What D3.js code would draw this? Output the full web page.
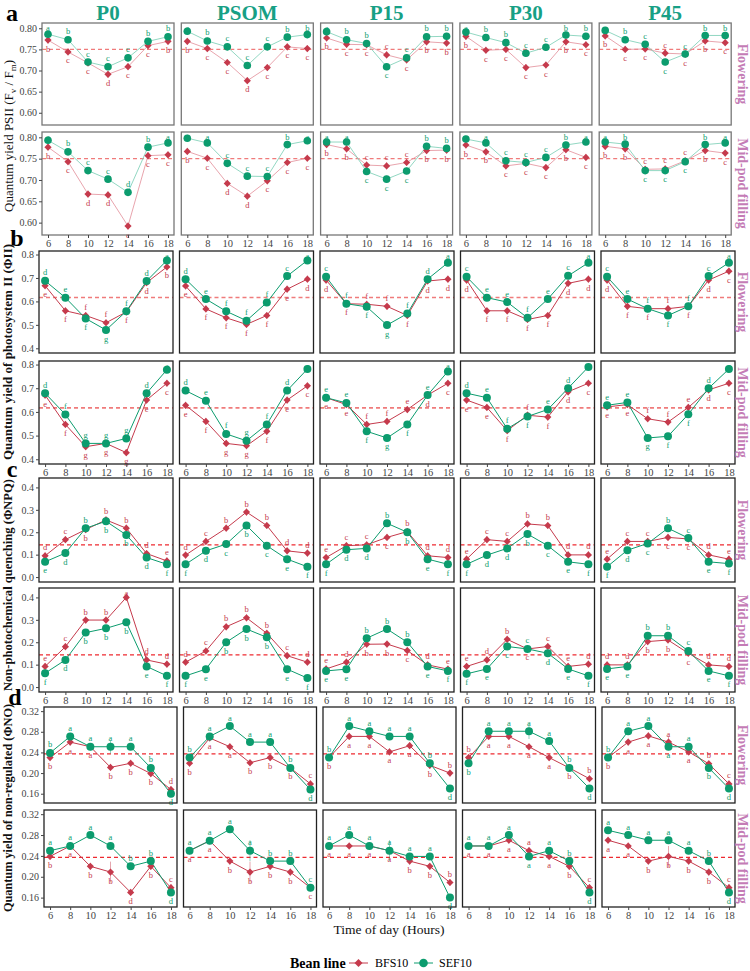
<!DOCTYPE html>
<html>
<head>
<meta charset="utf-8">
<script src="https://cdn.jsdelivr.net/npm/d3@7"></script>
<style>
  body { margin: 0; background: #fff; }
  svg { display: block; }
  text { font-family: "Liberation Serif", "DejaVu Serif", serif; }
</style>
</head>
<body>
<svg id="chart" width="750" height="971"></svg>
<script>
// ---- data ----
const hours = [6, 8, 10, 12, 14, 16, 18];
const treatments = ["P0", "PSOM", "P15", "P30", "P45"];
const stages = ["Flowering", "Mid-pod filling"];
const beanLines = ["BFS10", "SEF10"];

// a: Fv/Fm   [stage][treatment][hour]
const fvfmBFS = [
  [[0.772,0.744,0.718,0.691,0.709,0.759,0.769],[0.769,0.752,0.719,0.676,0.707,0.756,0.752],[0.777,0.762,0.761,0.737,0.725,0.768,0.765],[0.781,0.748,0.750,0.707,0.713,0.768,0.761],[0.782,0.750,0.751,0.741,0.739,0.770,0.766]],
  [[0.777,0.743,0.667,0.665,0.592,0.757,0.759],[0.767,0.751,0.692,0.662,0.698,0.741,0.751],[0.783,0.773,0.735,0.733,0.741,0.769,0.770],[0.782,0.766,0.733,0.739,0.729,0.771,0.753],[0.779,0.773,0.725,0.726,0.745,0.769,0.763]]
];
const fvfmSEF = [
  [[0.786,0.773,0.720,0.709,0.730,0.769,0.780],[0.793,0.770,0.756,0.712,0.756,0.779,0.785],[0.792,0.773,0.764,0.709,0.730,0.780,0.781],[0.791,0.778,0.766,0.741,0.755,0.784,0.781],[0.795,0.773,0.762,0.720,0.739,0.783,0.783]],
  [[0.793,0.766,0.722,0.702,0.671,0.777,0.787],[0.798,0.787,0.739,0.709,0.708,0.783,0.792],[0.789,0.789,0.720,0.702,0.721,0.779,0.774],[0.796,0.787,0.745,0.741,0.753,0.782,0.789],[0.789,0.784,0.722,0.722,0.743,0.783,0.787]]
];
const fvfmLetBFS = [["bccdccb","bccdccc","bccccbb","bccccbc","bccccbc"],["bcddecc","bcddccc","bbcccbb","bbcccbc","bbcccbc"]];
const fvfmLetSEF = [["abcccbb","abcccbb","abbccbb","abbccbb","abcccbb"],["abccdba","aacccba","aacccbb","aacccba","abcccba"]];

// b: PhiII
const phi2BFS = [
  [[0.667,0.560,0.540,0.509,0.555,0.680,0.747],[0.666,0.568,0.530,0.502,0.540,0.652,0.695],[0.691,0.590,0.588,0.579,0.540,0.687,0.695],[0.691,0.560,0.560,0.523,0.540,0.677,0.695],[0.691,0.579,0.569,0.569,0.579,0.691,0.729]],
  [[0.671,0.547,0.453,0.467,0.428,0.650,0.721],[0.628,0.560,0.467,0.457,0.518,0.650,0.710],[0.660,0.631,0.547,0.560,0.610,0.671,0.721],[0.650,0.619,0.521,0.586,0.578,0.685,0.721],[0.621,0.631,0.571,0.557,0.619,0.693,0.721]]
];
const phi2SEF = [
  [[0.688,0.616,0.527,0.478,0.558,0.687,0.775],[0.695,0.610,0.558,0.518,0.595,0.708,0.775],[0.705,0.590,0.577,0.499,0.548,0.695,0.765],[0.705,0.616,0.597,0.530,0.610,0.709,0.765],[0.705,0.610,0.569,0.540,0.579,0.708,0.765]],
  [[0.679,0.589,0.467,0.467,0.488,0.679,0.778],[0.690,0.647,0.507,0.478,0.547,0.690,0.781],[0.660,0.638,0.518,0.490,0.547,0.671,0.771],[0.679,0.660,0.529,0.581,0.610,0.700,0.790],[0.628,0.640,0.490,0.497,0.590,0.700,0.781]]
];
const phi2LetBFS = [["effffdb","effffed","dffffdd","dffffdd","dffffdc"],["efgggec","efggfec","eeffedc","eefffdc","eeffedc"]];
const phi2LetSEF = [["defgfda","defffca","cffgfda","ceefeca","cefffca"],["dfgggda","defgfda","eefgfea","deffeda","eegffda"]];

// c: PhiNPQ
const npqBFS = [
  [[0.095,0.167,0.212,0.255,0.218,0.105,0.072],[0.098,0.159,0.218,0.290,0.230,0.117,0.107],[0.087,0.140,0.144,0.177,0.203,0.095,0.087],[0.080,0.167,0.159,0.237,0.230,0.099,0.099],[0.080,0.159,0.159,0.177,0.170,0.099,0.080]],
  [[0.092,0.180,0.299,0.299,0.400,0.121,0.102],[0.111,0.161,0.269,0.309,0.240,0.140,0.111],[0.081,0.111,0.191,0.192,0.163,0.099,0.080],[0.092,0.121,0.213,0.170,0.181,0.092,0.102],[0.099,0.099,0.203,0.210,0.151,0.099,0.092]]
];
const npqSEF = [
  [[0.068,0.107,0.218,0.249,0.188,0.087,0.057],[0.057,0.117,0.147,0.230,0.140,0.080,0.046],[0.057,0.122,0.128,0.240,0.200,0.080,0.057],[0.057,0.098,0.128,0.192,0.140,0.068,0.057],[0.046,0.120,0.150,0.218,0.174,0.068,0.060]],
  [[0.062,0.121,0.243,0.262,0.289,0.092,0.050],[0.050,0.080,0.200,0.259,0.222,0.080,0.040],[0.072,0.080,0.218,0.259,0.200,0.092,0.072],[0.059,0.081,0.181,0.170,0.151,0.081,0.050],[0.081,0.092,0.229,0.229,0.161,0.072,0.050]]
];
const npqLetBFS = [["dcbbbde","dcbbbdd","ecccbdd","eccbbdd","eccccde"],["ecbbadd","dcbbbcd","edbbcde","edbcced","ddbbcdd"]];
const npqLetSEF = [["edbbbdf","fdcbcef","fddbbef","fddbcef","fdcbcef"],["fdbbbef","febbbef","eebbbef","feccdef","eebbcef"]];

// d: PhiNO
const noBFS = [
  [[0.230,0.260,0.251,0.211,0.219,0.199,0.168],[0.219,0.268,0.251,0.220,0.230,0.210,0.179],[0.230,0.271,0.271,0.241,0.253,0.215,0.200],[0.230,0.271,0.271,0.251,0.230,0.210,0.189],[0.230,0.260,0.272,0.260,0.241,0.218,0.179]],
  [[0.239,0.259,0.220,0.209,0.170,0.220,0.179],[0.250,0.269,0.230,0.209,0.220,0.209,0.179],[0.259,0.259,0.259,0.250,0.230,0.220,0.189],[0.259,0.259,0.270,0.250,0.239,0.220,0.179],[0.270,0.259,0.230,0.239,0.230,0.209,0.179]]
];
const noSEF = [
  [[0.239,0.271,0.251,0.251,0.251,0.210,0.160],[0.230,0.271,0.291,0.260,0.260,0.210,0.168],[0.230,0.291,0.281,0.271,0.271,0.219,0.170],[0.219,0.281,0.281,0.281,0.262,0.210,0.170],[0.230,0.281,0.291,0.251,0.251,0.210,0.170]],
  [[0.250,0.259,0.280,0.259,0.220,0.230,0.170],[0.250,0.269,0.291,0.250,0.230,0.230,0.179],[0.259,0.280,0.259,0.250,0.239,0.239,0.160],[0.259,0.259,0.280,0.239,0.250,0.230,0.170],[0.289,0.280,0.270,0.270,0.250,0.230,0.170]]
];
const noLetBFS = [["baabbbd","baabbbc","baaaabb","baaaabb","baaaabc"],["babbdbc","aabbbbc","aaaabbb","aaaaabc","aabbbbc"]];
const noLetSEF = [["baaaabd","baaaabd","baaaabd","baaaabd","baaaabd"],["aaaabbd","aaaabbc","aaaaaad","aaaaabd","aaaaabd"]];

// long error bars: [section, stage, treatment, line, hour, +/-]
const bigErrors = [
  ["d", 1, 0, "BFS10", 12, 0.02], ["d", 1, 1, "SEF10", 12, 0.02], ["d", 1, 1, "BFS10", 12, 0.02],
  ["d", 1, 2, "SEF10", 12, 0.02], ["d", 1, 4, "BFS10", 12, 0.02], ["d", 0, 0, "SEF10", 12, 0.013],
  ["d", 0, 3, "SEF10", 12, 0.015], ["d", 0, 4, "BFS10", 12, 0.012]
];

const refValues = [0.75, 0.617, 0.144, 0.237];
const fvfmTicks = [0.60, 0.65, 0.70, 0.75, 0.80];
const phi2Ticks = [0.4, 0.5, 0.6, 0.7, 0.8];
const npqTicks = [0.0, 0.1, 0.2, 0.3, 0.4];
const noTicks = [0.16, 0.20, 0.24, 0.28, 0.32];

// ---- setup ----
const red = "#c53a4c", green = "#0c9c6e";
const stripColor = "#c47cb6", titleColor = "#17a085";
const svg = d3.select("#chart");

const sections = [
  { id: "a", bfs: fvfmBFS, sef: fvfmSEF, lb: fvfmLetBFS, ls: fvfmLetSEF, ticks: fvfmTicks, fmt: d3.format(".2f"), ref: refValues[0], dom: [0.571, 0.8125],
    x0: 42, pw: 132, pitch: 139.3, rows: [[23, 125], [132, 235]], lab: [12, 13], soft: true },
  { id: "b", bfs: phi2BFS, sef: phi2SEF, lb: phi2LetBFS, ls: phi2LetSEF, ticks: phi2Ticks, fmt: d3.format(".1f"), ref: refValues[1], dom: [0.38, 0.815],
    x0: 39, pw: 134, pitch: 140.5, rows: [[251, 353], [361, 464]], lab: [17, 238] },
  { id: "c", bfs: npqBFS, sef: npqSEF, lb: npqLetBFS, ls: npqLetSEF, ticks: npqTicks, fmt: d3.format(".1f"), ref: refValues[2], dom: [-0.022, 0.442],
    x0: 39, pw: 134, pitch: 140.5, rows: [[478, 582], [588, 692]], lab: [12, 469] },
  { id: "d", bfs: noBFS, sef: noSEF, lb: noLetBFS, ls: noLetSEF, ticks: noTicks, fmt: d3.format(".2f"), ref: refValues[3], dom: [0.142, 0.328],
    x0: 44, pw: 133, pitch: 139.5, rows: [[707, 803], [810, 907]], lab: [15, 697] }
];

function diamond(r) { return "M0," + (-r) + "L" + r + ",0L0," + r + "L" + (-r) + ",0Z"; }

function bigErr(sec, r, c, line, h) {
  const e = bigErrors.find(b => b[0] == sec && b[1] == r && b[2] == c && b[3] == line && b[4] == h);
  return e ? e[5] : null;
}

sections.forEach(sec => {
  // section letter
  svg.append("text").attr("x", sec.lab[0]).attr("y", sec.lab[1]).attr("dy", "0.35em")
    .attr("text-anchor", "middle").attr("font-size", 24).attr("font-weight", "bold").text(sec.id);

  sec.rows.forEach((rowPx, r) => {
    treatments.forEach((tr, c) => {
      const px = sec.x0 + c * sec.pitch;
      const x = d3.scaleLinear().domain([5.4, 18.6]).range([px, px + sec.pw]);
      const y = d3.scaleLinear().domain(sec.dom).range([rowPx[1], rowPx[0]]);
      const g = svg.append("g");

      // reference line
      g.append("line").attr("x1", px).attr("x2", px + sec.pw)
        .attr("y1", y(sec.ref)).attr("y2", y(sec.ref))
        .attr("stroke", sec.soft || sec.id == "b" ? "#f07b7b" : "#ee2a30")
        .attr("stroke-width", sec.id == "b" ? 1.6 : 1.2)
        .attr("stroke-dasharray", "4,3");

      const series = [
        { name: "BFS10", vals: sec.bfs[r][c], lets: sec.lb[r][c], col: red, lineCol: sec.soft ? "#e59aa4" : red },
        { name: "SEF10", vals: sec.sef[r][c], lets: sec.ls[r][c], col: green, lineCol: sec.soft ? "#86d2bb" : green }
      ];

      series.forEach(s => {
        const line = d3.line().x((d, i) => x(hours[i])).y(d => y(d));
        g.append("path").attr("d", line(s.vals)).attr("fill", "none")
          .attr("stroke", s.lineCol).attr("stroke-width", sec.soft ? 0.9 : 1);
      });

      // error bars
      series.forEach(s => {
        s.vals.forEach((v, i) => {
          const e = bigErr(sec.id, r, c, s.name, hours[i]);
          const y1 = e ? y(v + e) : y(v) - 3.5, y2 = e ? y(v - e) : y(v) + 3.5;
          g.append("line").attr("x1", x(hours[i])).attr("x2", x(hours[i]))
            .attr("y1", y1).attr("y2", y2)
            .attr("stroke", s.col).attr("stroke-opacity", 0.45).attr("stroke-width", 1);
        });
      });

      // markers
      g.selectAll(".bfs").data(series[0].vals).enter().append("path")
        .attr("transform", (d, i) => "translate(" + x(hours[i]) + "," + y(d) + ")")
        .attr("d", diamond(3.6)).attr("fill", red);
      g.selectAll(".sef").data(series[1].vals).enter().append("circle")
        .attr("cx", (d, i) => x(hours[i])).attr("cy", d => y(d))
        .attr("r", sec.soft ? 3.8 : 4).attr("fill", green);

      // significance letters: higher point gets its letter above
      hours.forEach((h, i) => {
        const gUp = series[1].vals[i] >= series[0].vals[i];
        series.forEach((s, k) => {
          const up = (k == 1) == gUp;
          // keep top letters inside the panel
          const ly = up ? Math.max(y(s.vals[i]) - 5.5, rowPx[0] + 7.5) : y(s.vals[i]) + 11.5;
          g.append("text").attr("x", x(h)).attr("y", ly)
            .attr("text-anchor", "middle")
            .attr("font-family", "'Liberation Sans', Arial, sans-serif")
            .attr("font-size", 8.5).attr("fill", s.col).text(s.lets[i]);
        });
      });

      // panel border
      g.append("rect").attr("x", px).attr("y", rowPx[0])
        .attr("width", sec.pw).attr("height", rowPx[1] - rowPx[0])
        .attr("fill", "none").attr("stroke", sec.soft ? "#777" : "#222").attr("stroke-width", 1.3);

      if (r == 1) {
        const xa = g.append("g").attr("transform", "translate(0," + rowPx[1] + ")")
          .call(d3.axisBottom(x).tickValues(hours).tickSize(3).tickPadding(1.5));
        xa.select(".domain").remove();
        xa.selectAll("text").attr("font-size", 10.5).attr("fill", "#444")
          .attr("font-family", "'Liberation Serif', serif");
        xa.selectAll("line").attr("stroke", "#444");
      }
      if (c == 0) {
        const ya = g.append("g").attr("transform", "translate(" + px + ",0)")
          .call(d3.axisLeft(y).tickValues(sec.ticks).tickFormat(sec.fmt).tickSize(3).tickPadding(2));
        ya.select(".domain").remove();
        ya.selectAll("text").attr("font-size", 10).attr("fill", "#444")
          .attr("font-family", "'Liberation Serif', serif");
        ya.selectAll("line").attr("stroke", "#444");
      }
      // column titles on top of section a
      if (sec.id == "a" && r == 0) {
        svg.append("text").attr("x", px + sec.pw / 2).attr("y", 13).attr("dy", "0.35em")
          .attr("text-anchor", "middle").attr("font-size", 21).attr("font-weight", "bold")
          .attr("fill", titleColor).text(tr);
      }
    });

    // stage strip on the right
    svg.append("text")
      .attr("transform", "translate(743," + ((rowPx[0] + rowPx[1]) / 2) + ") rotate(90)")
      .attr("text-anchor", "middle").attr("dy", "0.35em")
      .attr("font-size", 14).attr("font-weight", "bold").attr("fill", stripColor)
      .text(stages[r]);
  });
});

// y-axis titles
function yTitle(cy, size, weight) {
  return svg.append("text").attr("transform", "translate(8," + cy + ") rotate(-90)")
    .attr("text-anchor", "middle").attr("dy", "0.35em")
    .attr("font-size", size).attr("font-weight", weight).attr("fill", "#111");
}
const ta = yTitle(136, 13, "normal");
ta.append("tspan").text("Quantum yield PSII (F");
ta.append("tspan").attr("font-size", 9).attr("dy", 3).text("v");
ta.append("tspan").attr("dy", -3).text(" / F");
ta.append("tspan").attr("font-size", 9).attr("dy", 3).text("m");
ta.append("tspan").attr("dy", -3).text(")");
yTitle(352, 12.5, "bold").attr("textLength", 216).attr("lengthAdjust", "spacingAndGlyphs")
  .text("Quantum yield of photosystem II (\u03A6II)");
yTitle(585, 12.5, "bold").attr("textLength", 212).attr("lengthAdjust", "spacingAndGlyphs")
  .text("Non-photochemical quenching (\u03A6NPQ)");
yTitle(808, 12.5, "bold").attr("textLength", 208).attr("lengthAdjust", "spacingAndGlyphs")
  .text("Quantum yield of non-regulated (\u03A6NO)");

// x-axis title
svg.append("text").attr("x", 389).attr("y", 929).attr("dy", "0.35em")
  .attr("text-anchor", "middle").attr("font-size", 13.5).attr("fill", "#111")
  .text("Time of day (Hours)");

// legend
const lg = svg.append("g").attr("transform", "translate(0,963)");
lg.append("text").attr("x", 290).attr("dy", "0.35em").attr("font-size", 14)
  .attr("font-weight", "bold").text("Bean line");
lg.append("line").attr("x1", 349).attr("x2", 368).attr("stroke", red);
lg.append("path").attr("transform", "translate(358.5,0)").attr("d", diamond(4)).attr("fill", red);
lg.append("text").attr("x", 375).attr("dy", "0.35em").attr("font-size", 12).text(beanLines[0]);
lg.append("line").attr("x1", 414).attr("x2", 433).attr("stroke", green);
lg.append("circle").attr("cx", 423.5).attr("r", 4.3).attr("fill", green);
lg.append("text").attr("x", 439).attr("dy", "0.35em").attr("font-size", 12).text(beanLines[1]);
</script>
</body>
</html>
